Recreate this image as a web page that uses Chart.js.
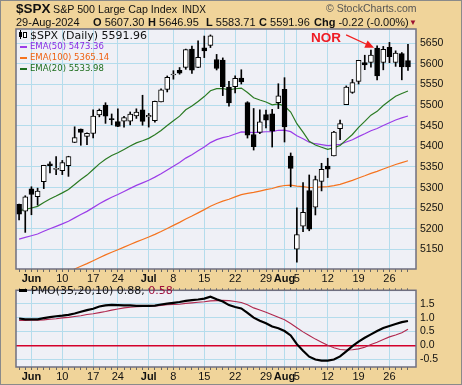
<!DOCTYPE html>
<html>
<head>
<meta charset="utf-8">
<script src="https://cdn.jsdelivr.net/npm/chart.js@4.4.1/dist/chart.umd.min.js"></script>
<style>
  html, body { margin: 0; padding: 0; background: #f0d49a; }
  #wrap { position: relative; width: 462px; height: 385px; overflow: hidden; background: #f0d49a; }
  #frame { position: absolute; left: 0; top: 0; width: 462px; height: 385px; box-sizing: border-box; border: 1px solid #8a8a8a; z-index: 5; }
  canvas { position: absolute; left: 0; }
  #main { top: 0; }
  #pmo { top: 280px; }
  .t { position: absolute; white-space: nowrap; line-height: 1; color: #111; font-family: "Liberation Sans", Arial, sans-serif; z-index: 4; }
  .dv { font-family: "DejaVu Sans", sans-serif; }
  .mk { position: absolute; z-index: 4; }
</style>
</head>
<body>
<div id="wrap">
  <canvas id="main" width="462" height="285"></canvas>
  <canvas id="pmo" width="462" height="105"></canvas>

  <div class="t" style="left:16px;top:2px;font-size:13.5px;font-weight:bold;">$SPX</div>
  <div class="t" style="left:53px;top:4px;font-size:10.7px;">S&amp;P 500 Large Cap Index</div>
  <div class="t" style="left:182px;top:5px;font-size:10px;">INDX</div>
  <div class="t" style="left:326px;top:3px;font-size:10.5px;color:#555;">© StockCharts.com</div>

  <div class="t" style="left:16px;top:17px;font-size:11px;" id="hdrDate">29-Aug-2024</div>
  <div class="t" style="left:93px;top:17px;font-size:11px;"><b>O</b> <span id="hdrO"></span></div>
  <div class="t" style="left:148px;top:17px;font-size:11px;"><b>H</b> <span id="hdrH"></span></div>
  <div class="t" style="left:206px;top:17px;font-size:11px;"><b>L</b> <span id="hdrL"></span></div>
  <div class="t" style="left:259px;top:17px;font-size:11px;"><b>C</b> <span id="hdrC"></span></div>
  <div class="t" style="left:314px;top:17px;font-size:11px;"><b>Chg</b> <span id="hdrChg"></span></div>
  <div class="t" style="left:409px;top:19px;font-size:8px;color:#9b1030;">▼</div>

  <div class="t" style="left:311px;top:31px;font-size:13.5px;font-weight:bold;color:#ee1c24;">NOR</div>

  <!-- price panel legend -->
  <div class="mk" style="left:19px;top:32px;width:3px;height:5px;background:#000;"></div>
  <div class="mk" style="left:20px;top:30px;width:1px;height:9px;background:#000;"></div>
  <div class="mk" style="left:23px;top:32px;width:2px;height:4px;background:#fff;border:1px solid #000;"></div>
  <div class="t dv" style="left:30px;top:30px;font-size:11px;" id="lgPrice"></div>
  <div class="mk" style="left:20px;top:46px;width:7px;height:2px;background:#9b3de8;"></div>
  <div class="t dv" style="left:30px;top:42.3px;font-size:8.5px;color:#8a2be2;" id="lg50"></div>
  <div class="mk" style="left:20px;top:56.5px;width:7px;height:2px;background:#f5731e;"></div>
  <div class="t dv" style="left:30px;top:52.8px;font-size:8.5px;color:#f06010;" id="lg100"></div>
  <div class="mk" style="left:20px;top:67.5px;width:7px;height:2px;background:#1e6e1e;"></div>
  <div class="t dv" style="left:30px;top:63.8px;font-size:8.5px;color:#1e6e1e;" id="lg20"></div>

  <!-- PMO legend -->
  <div class="mk" style="left:19px;top:289px;width:8px;height:3px;background:#000;"></div>
  <div class="t dv" style="left:31px;top:284.7px;font-size:11px;"><span id="lgPmo"></span><span id="lgSig" style="color:#a0103c;"></span></div>

  <div id="frame"></div>
</div>

<script>
// trading days 30 May .. 29 Aug 2024
const tickDays = [2, 7, 12, 16, 21, 25, 30, 35, 40, 43, 45, 50, 55, 60];
const tickLabels = ['Jun', '10', '17', '24', 'Jul', '8', '15', '22', '29', 'Aug', '5', '12', '19', '26'];
const priceTicks = [5150, 5200, 5250, 5300, 5350, 5400, 5450, 5500, 5550, 5600, 5650];
const pmoTicks = [-0.5, 0, 0.5, 1.0, 1.5];

const opens = [5259.77, 5243.21, 5297.15, 5278.24, 5314.48, 5357.80, 5343.81, 5341.22, 5353.00, 5409.13,
  5441.93, 5424.08, 5431.11, 5476.15, 5499.99, 5466.77, 5459.58, 5460.73, 5460.71, 5473.59,
  5488.48, 5471.08, 5461.84, 5507.44, 5537.91, 5572.75, 5584.24, 5591.26, 5635.21, 5590.76,
  5638.16, 5644.09, 5610.07, 5608.56, 5543.37, 5544.54, 5565.30, 5505.84, 5428.70, 5433.67,
  5476.55, 5478.73, 5505.59, 5537.84, 5376.63, 5151.14, 5206.42, 5293.13, 5252.57, 5314.89,
  5351.88, 5376.98, 5442.45, 5501.01, 5530.50, 5557.23, 5602.88, 5603.09, 5637.77, 5602.89,
  5639.66, 5602.89, 5624.51, 5607.30];
const highs = [5260.21, 5280.33, 5302.11, 5298.80, 5354.16, 5362.35, 5375.08, 5365.79, 5375.95, 5447.25,
  5441.93, 5432.39, 5488.50, 5490.38, 5505.53, 5478.31, 5490.66, 5472.88, 5483.14, 5490.81,
  5523.64, 5479.55, 5509.69, 5539.27, 5570.33, 5583.11, 5590.75, 5635.39, 5642.45, 5655.56,
  5666.94, 5669.67, 5622.49, 5614.05, 5557.50, 5570.36, 5585.34, 5508.04, 5491.59, 5488.32,
  5487.74, 5489.46, 5551.51, 5566.16, 5383.89, 5250.89, 5312.34, 5330.64, 5328.03, 5358.92,
  5371.20, 5436.50, 5463.22, 5546.23, 5561.98, 5608.30, 5620.51, 5632.68, 5643.22, 5641.82,
  5651.62, 5631.18, 5627.03, 5646.95];
const lows = [5222.10, 5191.68, 5234.32, 5257.63, 5297.64, 5335.36, 5331.33, 5331.52, 5327.25, 5409.13,
  5402.51, 5403.75, 5420.40, 5471.32, 5455.56, 5452.03, 5447.59, 5446.56, 5451.87, 5467.54,
  5451.12, 5446.53, 5458.43, 5507.42, 5531.63, 5562.51, 5574.57, 5586.44, 5576.53, 5590.44,
  5614.75, 5639.02, 5584.81, 5522.81, 5497.04, 5529.04, 5550.90, 5419.98, 5390.95, 5430.70,
  5444.44, 5398.25, 5491.25, 5410.42, 5302.03, 5119.26, 5193.56, 5195.54, 5233.85, 5292.01,
  5324.37, 5376.98, 5415.97, 5501.01, 5528.26, 5550.74, 5585.50, 5591.57, 5560.95, 5585.16,
  5602.34, 5593.48, 5560.95, 5583.71];
const closes = [5235.48, 5277.51, 5283.40, 5291.34, 5354.03, 5352.96, 5346.99, 5360.79, 5375.32, 5421.03,
  5433.74, 5431.60, 5473.23, 5487.03, 5473.17, 5464.62, 5447.87, 5469.30, 5477.90, 5482.87,
  5460.48, 5475.09, 5509.01, 5537.02, 5567.19, 5572.85, 5576.98, 5633.91, 5584.54, 5615.35,
  5631.22, 5667.20, 5588.27, 5544.59, 5505.00, 5564.41, 5555.74, 5427.13, 5399.22, 5459.10,
  5463.54, 5436.44, 5522.30, 5446.68, 5346.56, 5186.33, 5240.03, 5199.50, 5319.31, 5344.16,
  5344.39, 5434.43, 5455.21, 5543.22, 5554.25, 5608.25, 5597.12, 5620.85, 5570.64, 5634.61,
  5616.84, 5625.80, 5592.18, 5591.96];

const ema20 = [5244.1, 5247.3, 5250.7, 5254.6, 5264.1, 5272.5, 5279.6, 5287.3, 5295.7, 5307.6,
  5319.6, 5330.3, 5343.9, 5357.5, 5368.5, 5377.7, 5384.4, 5392.4, 5400.6, 5408.4,
  5413.4, 5419.2, 5427.8, 5438.2, 5450.5, 5462.1, 5473.0, 5488.4, 5497.5, 5508.7,
  5520.4, 5534.4, 5539.5, 5540.0, 5536.7, 5539.3, 5540.9, 5530.1, 5517.6, 5512.0,
  5507.4, 5500.6, 5502.7, 5497.4, 5483.0, 5454.8, 5434.4, 5412.0, 5403.2, 5397.6,
  5392.5, 5396.5, 5402.1, 5415.5, 5428.7, 5445.8, 5460.2, 5475.5, 5484.6, 5498.9,
  5510.1, 5521.1, 5527.9, 5533.98];
const ema50 = [5175.5, 5179.5, 5183.6, 5187.8, 5194.3, 5200.5, 5206.3, 5212.3, 5218.7, 5226.7,
  5234.8, 5242.5, 5251.6, 5260.8, 5269.1, 5276.8, 5283.5, 5290.8, 5298.1, 5305.4,
  5311.5, 5317.9, 5325.4, 5333.7, 5342.8, 5351.8, 5360.7, 5371.4, 5379.8, 5389.0,
  5398.5, 5409.0, 5416.1, 5421.1, 5424.4, 5429.9, 5434.8, 5434.5, 5433.2, 5434.2,
  5435.3, 5435.4, 5438.8, 5439.1, 5435.5, 5425.7, 5418.4, 5409.8, 5406.3, 5403.9,
  5401.6, 5402.9, 5404.9, 5410.3, 5416.0, 5423.5, 5430.3, 5437.8, 5443.0, 5450.5,
  5457.0, 5463.7, 5468.7, 5473.36];
const ema100 = [5055.9, 5060.3, 5064.7, 5069.2, 5074.8, 5080.3, 5085.6, 5091.1, 5096.7, 5103.1,
  5109.6, 5116.0, 5123.1, 5130.3, 5137.1, 5143.6, 5149.6, 5155.9, 5162.3, 5168.7,
  5174.5, 5180.4, 5186.9, 5193.8, 5201.2, 5208.6, 5215.9, 5224.2, 5231.3, 5238.9,
  5246.7, 5255.0, 5261.6, 5267.2, 5271.9, 5277.7, 5283.2, 5286.1, 5288.3, 5291.7,
  5295.1, 5297.9, 5302.3, 5305.2, 5306.0, 5303.6, 5302.4, 5300.3, 5300.7, 5301.6,
  5302.4, 5305.0, 5308.0, 5312.7, 5317.5, 5323.3, 5328.7, 5334.5, 5339.2, 5345.1,
  5350.4, 5355.9, 5360.6, 5365.14];

const pmo = [0.97, 0.94, 0.94, 0.94, 0.98, 1.02, 1.05, 1.07, 1.10, 1.15,
  1.21, 1.27, 1.32, 1.40, 1.44, 1.46, 1.45, 1.44, 1.44, 1.42,
  1.42, 1.42, 1.43, 1.47, 1.50, 1.53, 1.56, 1.60, 1.63, 1.65,
  1.68, 1.75, 1.66, 1.58, 1.45, 1.38, 1.33, 1.17, 1.00, 0.89,
  0.80, 0.68, 0.62, 0.52, 0.36, 0.05, -0.19, -0.40, -0.50, -0.54,
  -0.54, -0.50, -0.39, -0.21, -0.02, 0.14, 0.28, 0.40, 0.52, 0.63,
  0.70, 0.77, 0.84, 0.88];
const pmoSignal = [0.90, 0.90, 0.91, 0.91, 0.92, 0.94, 0.96, 0.99, 1.01, 1.04,
  1.07, 1.11, 1.14, 1.18, 1.22, 1.27, 1.31, 1.35, 1.37, 1.39,
  1.40, 1.41, 1.42, 1.44, 1.46, 1.47, 1.48, 1.51, 1.53, 1.55,
  1.57, 1.60, 1.61, 1.62, 1.61, 1.58, 1.54, 1.46, 1.35, 1.27,
  1.19, 1.10, 1.01, 0.92, 0.79, 0.64, 0.49, 0.36, 0.23, 0.12,
  0.01, -0.08, -0.14, -0.16, -0.15, -0.12, -0.06, 0.04, 0.12, 0.22,
  0.31, 0.38, 0.46, 0.58];

const norDay = 58; // candle the NOR arrow points at

// header + legend text from the data
const last = closes.length - 1;
const chg = closes[last] - closes[last - 1];
document.getElementById('hdrO').textContent = opens[last].toFixed(2);
document.getElementById('hdrH').textContent = highs[last].toFixed(2);
document.getElementById('hdrL').textContent = lows[last].toFixed(2);
document.getElementById('hdrC').textContent = closes[last].toFixed(2);
document.getElementById('hdrChg').textContent = chg.toFixed(2) + ' (' + (chg / closes[last - 1] * 100).toFixed(2) + '%)';
document.getElementById('lgPrice').textContent = '$SPX (Daily) ' + closes[last].toFixed(2);
document.getElementById('lg50').textContent = 'EMA(50) ' + ema50[last].toFixed(2);
document.getElementById('lg100').textContent = 'EMA(100) ' + ema100[last].toFixed(2);
document.getElementById('lg20').textContent = 'EMA(20) ' + ema20[last].toFixed(2);
document.getElementById('lgPmo').textContent = 'PMO(35,20,10) ' + pmo[last].toFixed(2) + ', ';
document.getElementById('lgSig').textContent = pmoSignal[last].toFixed(2);

const days = closes.map((_, i) => i);
const labelAt = {};
tickDays.forEach((d, i) => { labelAt[d] = tickLabels[i]; });
const xy = arr => arr.map((v, i) => ({ x: i, y: v }));

const GRID = '#b4dcec';
const TICKFONT = 'Liberation Sans';

// plot background + frame
const panelFrame = {
  id: 'panelFrame',
  beforeDraw(chart) {
    const { ctx, chartArea: a } = chart;
    ctx.save();
    ctx.fillStyle = '#eff0f6';
    ctx.fillRect(a.left, a.top, a.right - a.left, a.bottom - a.top);
    ctx.restore();
  },
  afterDraw(chart) {
    const { ctx, chartArea: a } = chart;
    ctx.save();
    ctx.strokeStyle = '#6f6f80';
    ctx.lineWidth = 1.5;
    ctx.strokeRect(a.left, a.top, a.right - a.left, a.bottom - a.top);
    ctx.restore();
  }
};

// red arrow of the NOR note
const norArrow = {
  id: 'norArrow',
  afterDatasetsDraw(chart) {
    const { ctx, scales } = chart;
    const tx = scales.x.getPixelForValue(norDay) - 3;
    const ty = scales.y.getPixelForValue(highs[norDay]) + 2;
    const sx = tx - 28, sy = ty - 13;
    const ang = Math.atan2(ty - sy, tx - sx);
    ctx.save();
    ctx.strokeStyle = '#f02020';
    ctx.fillStyle = '#f02020';
    ctx.lineWidth = 1.2;
    ctx.beginPath();
    ctx.moveTo(sx, sy);
    ctx.lineTo(tx - 6 * Math.cos(ang), ty - 6 * Math.sin(ang));
    ctx.stroke();
    ctx.beginPath();
    ctx.moveTo(tx, ty);
    ctx.lineTo(tx - 9 * Math.cos(ang) + 4 * Math.sin(ang), ty - 9 * Math.sin(ang) - 4 * Math.cos(ang));
    ctx.lineTo(tx - 9 * Math.cos(ang) - 4 * Math.sin(ang), ty - 9 * Math.sin(ang) + 4 * Math.cos(ang));
    ctx.closePath();
    ctx.fill();
    ctx.restore();
  }
};

function dayAxis(height, showLabels) {
  return {
    type: 'linear',
    min: -0.5,
    max: 64.3,
    offset: false,
    afterBuildTicks: s => { s.ticks = days.map(v => ({ value: v })); },
    afterFit: s => { s.height = height; },
    ticks: {
      display: showLabels,
      autoSkip: false,
      maxRotation: 0,
      minRotation: 0,
      padding: 0,
      color: '#111',
      callback: v => labelAt[v] || '',
      font: c => ({
        family: TICKFONT,
        size: 11,
        weight: /[A-Za-z]/.test(labelAt[c.tick && c.tick.value] || '') ? 'bold' : 'normal'
      })
    },
    grid: {
      offset: false,
      color: c => (c.tick && labelAt[c.tick.value] !== undefined) ? GRID : 'rgba(0,0,0,0)',
      tickColor: '#666',
      tickLength: 3
    },
    border: { display: false }
  };
}

Chart.defaults.animation = false;

new Chart(document.getElementById('main'), {
  type: 'bar',
  data: {
    datasets: [
      { type: 'line', label: 'EMA(50)', data: xy(ema50), borderColor: '#9b3de8', borderWidth: 1.2, pointRadius: 0, order: 5 },
      { type: 'line', label: 'EMA(100)', data: xy(ema100), borderColor: '#f5731e', borderWidth: 1.2, pointRadius: 0, order: 5 },
      { type: 'line', label: 'EMA(20)', data: xy(ema20), borderColor: '#2a7a22', borderWidth: 1.2, pointRadius: 0, order: 4 },
      {
        label: 'wick',
        data: lows.map((l, i) => ({ x: i, y: [l, highs[i]] })),
        backgroundColor: '#000',
        barThickness: 1,
        grouped: false,
        order: 3
      },
      {
        label: 'body',
        data: opens.map((o, i) => ({ x: i, y: [o, closes[i]] })),
        backgroundColor: closes.map((c, i) => c >= opens[i] ? '#fff' : '#000'),
        borderColor: '#000',
        borderWidth: 1,
        borderSkipped: false,
        barThickness: 5,
        minBarLength: 1,
        grouped: false,
        order: 2
      }
    ]
  },
  options: {
    responsive: false,
    layout: { padding: { left: 16, top: 29, right: 0, bottom: 0 } },
    plugins: { legend: { display: false }, tooltip: { enabled: false } },
    scales: {
      x: dayAxis(16, true),
      y: {
        position: 'right',
        min: 5103,
        max: 5684,
        afterBuildTicks: s => { s.ticks = priceTicks.map(v => ({ value: v })); },
        afterFit: s => { s.width = 46; },
        ticks: { padding: 4, color: '#111', font: { family: TICKFONT, size: 10.5 }, callback: v => String(v) },
        grid: { color: GRID, drawTicks: false },
        border: { display: false }
      }
    }
  },
  plugins: [panelFrame, norArrow]
});

const topTicks = dayAxis(3, false);
topTicks.position = 'top';
topTicks.grid.drawOnChartArea = false;
topTicks.grid.tickLength = 2;

new Chart(document.getElementById('pmo'), {
  type: 'line',
  data: {
    datasets: [
      { label: 'Signal', data: xy(pmoSignal), borderColor: '#b0284e', borderWidth: 1.1, pointRadius: 0, order: 2 },
      { label: 'PMO', data: xy(pmo), borderColor: '#000', borderWidth: 2.2, pointRadius: 0, order: 1 }
    ]
  },
  options: {
    responsive: false,
    layout: { padding: { left: 16, top: 0, right: 0, bottom: 0 } },
    plugins: { legend: { display: false }, tooltip: { enabled: false } },
    scales: {
      x: dayAxis(18, true),
      x2: topTicks,
      y: {
        position: 'right',
        min: -0.77,
        max: 1.98,
        afterBuildTicks: s => { s.ticks = pmoTicks.map(v => ({ value: v })); },
        afterFit: s => { s.width = 46; },
        ticks: { padding: 4, color: '#111', font: { family: TICKFONT, size: 10.5 }, callback: v => v.toFixed(1) },
        grid: {
          color: c => (c.tick && c.tick.value === 0) ? '#d4002a' : GRID,
          lineWidth: c => (c.tick && c.tick.value === 0) ? 1.5 : 1,
          drawTicks: false
        },
        border: { display: false }
      }
    }
  },
  plugins: [panelFrame]
});
</script>
</body>
</html>
